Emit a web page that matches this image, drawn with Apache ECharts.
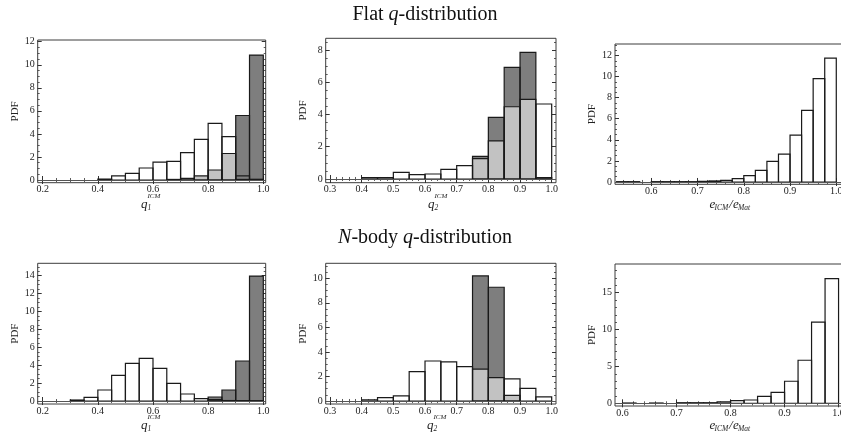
<!DOCTYPE html>
<html>
<head>
<meta charset="utf-8">
<script src="https://cdn.jsdelivr.net/npm/echarts@6/dist/echarts.min.js"></script>
<style>
  html, body { margin: 0; padding: 0; background: #fff; }
  #chart { width: 841px; height: 439px; }
</style>
</head>
<body>
<div id="chart"></div>
<script>
// bin edges
var edgesFlatQ = [0.40, 0.45, 0.50, 0.55, 0.60, 0.65, 0.70, 0.75, 0.80, 0.85, 0.90, 0.95, 1.00];
var edgesNbodyQ1 = [0.30, 0.35, 0.40, 0.45, 0.50, 0.55, 0.60, 0.65, 0.70, 0.75, 0.80, 0.85, 0.90, 0.95, 1.00];
var edgesFlatE = [0.500, 0.525, 0.550, 0.575, 0.600, 0.625, 0.650, 0.675, 0.700, 0.725, 0.750,
                  0.775, 0.800, 0.825, 0.850, 0.875, 0.900, 0.925, 0.950, 0.975, 1.000];
var edgesNbodyE = [0.600, 0.625, 0.650, 0.675, 0.700, 0.725, 0.750, 0.775, 0.800,
                   0.825, 0.850, 0.875, 0.900, 0.925, 0.950, 0.975, 1.000];

// flat q-distribution
var flatQ1White = [0.08, 0.35, 0.58, 1.04, 1.56, 1.62, 2.37, 3.53, 4.91, 3.76, 0.35, 0.05];
var flatQ1Light = [0, 0, 0, 0, 0, 0.05, 0.15, 0.35, 0.87, 2.30, 0.05, 0.05];
var flatQ1Dark  = [0, 0, 0, 0, 0, 0, 0, 0, 0, 0, 5.60, 10.84];

var flatQ2White = [0.08, 0.08, 0.41, 0.27, 0.31, 0.60, 0.83, 0, 0, 0, 0, 4.65];
var flatQ2Light = [0, 0, 0, 0, 0, 0, 0, 1.26, 2.36, 4.48, 4.94, 0.08];
var flatQ2Dark  = [0, 0, 0, 0, 0, 0, 0, 1.40, 3.82, 6.92, 7.85, 0];

var flatEWhite = [0, 0.03, 0.03, 0, 0.03, 0.03, 0.03, 0.03, 0.06, 0.10, 0.16,
                  0.32, 0.60, 1.10, 1.95, 2.65, 4.45, 6.80, 9.80, 11.75];

// N-body q-distribution
var nbodyQ1White = [0.11, 0.40, 1.23, 2.87, 4.20, 4.77, 3.65, 1.97, 0.78, 0.26, 0.15, 0.05, 0.04, 0.03];
var nbodyQ1Dark  = [0, 0, 0, 0, 0, 0, 0, 0, 0, 0, 0.45, 1.23, 4.47, 13.96];

var nbodyQ2White = [0.10, 0.27, 0.41, 2.40, 3.26, 3.18, 2.80, 0, 0, 1.80, 1.03, 0.33];
var nbodyQ2Light = [0, 0, 0, 0, 0, 0, 0, 2.60, 1.90, 0.46, 0, 0];
var nbodyQ2Dark  = [0, 0, 0, 0, 0, 0, 0, 10.19, 9.27, 0, 0, 0];

var nbodyEWhite = [0.04, 0, 0.04, 0, 0.08, 0.08, 0.08, 0.18, 0.36, 0.45, 0.95, 1.48, 2.99, 5.84, 11.00, 16.90];

// tick labels
var xTicksQ1 = [0.2, 0.4, 0.6, 0.8, 1.0];
var xTicksQ2 = [0.3, 0.4, 0.5, 0.6, 0.7, 0.8, 0.9, 1.0];
var xTicksE = [0.6, 0.7, 0.8, 0.9, 1.0];
var yTicksFlatQ1 = [0, 2, 4, 6, 8, 10, 12];
var yTicksFlatQ2 = [0, 2, 4, 6, 8];
var yTicksFlatE = [0, 2, 4, 6, 8, 10, 12];
var yTicksNbodyQ1 = [0, 2, 4, 6, 8, 10, 12, 14];
var yTicksNbodyQ2 = [0, 2, 4, 6, 8, 10];
var yTicksNbodyE = [0, 5, 10, 15];

var WHITE = '#ffffff', LIGHT = '#c2c2c2', DARK = '#7e7e7e', EDGE = '#1a1a1a', TICK = '#333';
var SERIF = '"Liberation Serif", "DejaVu Serif", serif';

function bins(edges, values) {
  var out = [];
  for (var i = 0; i < values.length; i++) {
    if (values[i] > 0) out.push([edges[i], edges[i + 1], values[i]]);
  }
  return out;
}

function steps(lo, hi, step) {
  var out = [];
  for (var k = Math.ceil(lo / step - 1e-9); k * step <= hi + 1e-9; k++) out.push(+(k * step).toFixed(6));
  return out;
}

var panels = [
  {grid: {left: 37.7, top: 40, width: 228, height: 142.7}, x: [0.1819, 1.0087], y: [-0.234, 12.15],
   xt: xTicksQ1, yt: yTicksFlatQ1, xm: 0.05, ym: 0.5,
   hists: [[WHITE, bins(edgesFlatQ, flatQ1White)], [DARK, bins(edgesFlatQ, flatQ1Dark)], [LIGHT, bins(edgesFlatQ, flatQ1Light)]]},
  {grid: {left: 325.7, top: 38.3, width: 230.3, height: 144.4}, x: [0.2864, 1.0136], y: [-0.23, 8.726],
   xt: xTicksQ2, yt: yTicksFlatQ2, xm: 0.02, ym: 0.5,
   hists: [[WHITE, bins(edgesFlatQ, flatQ2White)], [DARK, bins(edgesFlatQ, flatQ2Dark)], [LIGHT, bins(edgesFlatQ, flatQ2Light)]]},
  // right-hand panels run past the page edge, as in the original
  {grid: {left: 615, top: 44, width: 230.3, height: 140.3}, x: [0.5215, 1.0195], y: [-0.22, 13.09],
   xt: xTicksE, yt: yTicksFlatE, xm: 0.02, ym: 0.5,
   hists: [[WHITE, bins(edgesFlatE, flatEWhite)]]},
  {grid: {left: 37.7, top: 263.3, width: 228, height: 140.7}, x: [0.1819, 1.0087], y: [-0.335, 15.39],
   xt: xTicksQ1, yt: yTicksNbodyQ1, xm: 0.05, ym: 0.5,
   hists: [[WHITE, bins(edgesNbodyQ1, nbodyQ1White)], [DARK, bins(edgesNbodyQ1, nbodyQ1Dark)]]},
  {grid: {left: 325.7, top: 263.3, width: 230.3, height: 140.7}, x: [0.2864, 1.0136], y: [-0.245, 11.22],
   xt: xTicksQ2, yt: yTicksNbodyQ2, xm: 0.02, ym: 0.5,
   hists: [[WHITE, bins(edgesFlatQ, nbodyQ2White)], [DARK, bins(edgesFlatQ, nbodyQ2Dark)], [LIGHT, bins(edgesFlatQ, nbodyQ2Light)]]},
  {grid: {left: 615, top: 264, width: 232.2, height: 142}, x: [0.586, 1.016], y: [-0.366, 18.89],
   xt: xTicksE, yt: yTicksNbodyE, xm: 0.02, ym: 1,
   hists: [[WHITE, bins(edgesNbodyE, nbodyEWhite)]]}
];

function barShape(api) {
  var lo = api.coord([api.value(0), 0]);
  var hi = api.coord([api.value(1), api.value(2)]);
  return {x: lo[0], y: hi[1], width: hi[0] - lo[0], height: lo[1] - hi[1]};
}

var grids = [], xAxes = [], yAxes = [], series = [];

panels.forEach(function (p, gi) {
  grids.push(Object.assign({show: true, borderColor: '#3c3c3c', borderWidth: 1, backgroundColor: 'transparent',
                            containLabel: false, outerBoundsMode: 'none'}, p.grid));

  var xBase = {type: 'value', gridIndex: gi, min: p.x[0], max: p.x[1], splitLine: {show: false},
               axisLine: {show: false}, axisLabel: {show: false}};
  var yBase = {type: 'value', gridIndex: gi, min: p.y[0], max: p.y[1], splitLine: {show: false},
               axisLine: {show: false}, axisLabel: {show: false}};
  var xMajor = {show: true, inside: true, length: 4, lineStyle: {color: TICK, width: 1}, customValues: p.xt};
  var xMinor = {show: true, inside: true, length: 2, lineStyle: {color: TICK, width: 0.8}, customValues: steps(p.x[0], p.x[1], p.xm)};
  var yMajor = {show: true, inside: true, length: 4, lineStyle: {color: TICK, width: 1}, customValues: p.yt};
  var yMinor = {show: true, inside: true, length: 2, lineStyle: {color: TICK, width: 0.8}, customValues: steps(p.y[0], p.y[1], p.ym)};

  xAxes.push(
    Object.assign({}, xBase, {position: 'bottom', axisTick: xMajor,
      axisLabel: {show: true, customValues: p.xt, margin: 2, fontFamily: SERIF, fontSize: 10, color: '#222',
                  formatter: function (v) { return v.toFixed(1); }}}),
    Object.assign({}, xBase, {position: 'top', axisTick: xMajor}),
    Object.assign({}, xBase, {position: 'bottom', axisTick: xMinor}),
    Object.assign({}, xBase, {position: 'top', axisTick: xMinor})
  );
  yAxes.push(
    Object.assign({}, yBase, {position: 'left', axisTick: yMajor,
      name: 'PDF', nameLocation: 'middle', nameGap: 17, nameRotate: 90,
      nameTextStyle: {fontFamily: SERIF, fontSize: 11, color: '#222'},
      axisLabel: {show: true, customValues: p.yt, margin: 3, fontFamily: SERIF, fontSize: 10, color: '#222'}}),
    Object.assign({}, yBase, {position: 'right', axisTick: yMajor}),
    Object.assign({}, yBase, {position: 'left', axisTick: yMinor}),
    Object.assign({}, yBase, {position: 'right', axisTick: yMinor})
  );

  var allBins = [];
  p.hists.forEach(function (h) {
    var color = h[0];
    allBins = allBins.concat(h[1]);
    series.push({
      type: 'custom', xAxisIndex: gi * 4, yAxisIndex: gi * 4, z: 2, silent: true,
      data: h[1], encode: {x: [0, 1], y: 2},
      renderItem: function (params, api) {
        return {type: 'rect', shape: barShape(api), style: {fill: color, stroke: null}};
      }
    });
  });
  series.push({
    type: 'custom', xAxisIndex: gi * 4, yAxisIndex: gi * 4, z: 3, silent: true,
    data: allBins, encode: {x: [0, 1], y: 2},
    renderItem: function (params, api) {
      return {type: 'rect', shape: barShape(api), style: {fill: 'none', stroke: EDGE, lineWidth: 1.2}};
    },
    markLine: {silent: true, symbol: ['none', 'none'], label: {show: false},
               lineStyle: {color: '#555', width: 1, type: 'solid'}, data: [{yAxis: 0}]}
  });
});

function qName(x, y, idx) {
  return {type: 'group', children: [
    {type: 'text', x: x, y: y, style: {text: 'q', font: 'italic 13px ' + SERIF, fill: '#222', verticalAlign: 'middle'}},
    {type: 'text', x: x + 6.5, y: y - 9, style: {text: 'ICM', font: 'italic 7px ' + SERIF, fill: '#222', verticalAlign: 'middle'}},
    {type: 'text', x: x + 6.5, y: y + 3, style: {text: idx, font: 'italic 7.5px ' + SERIF, fill: '#222', verticalAlign: 'middle'}}
  ]};
}

function eName(x, y) {
  return {type: 'group', children: [
    {type: 'text', x: x, y: y, style: {text: 'e', font: 'italic 13px ' + SERIF, fill: '#222', verticalAlign: 'middle'}},
    {type: 'text', x: x + 5, y: y + 3, style: {text: 'ICM', font: 'italic 7.5px ' + SERIF, fill: '#222', verticalAlign: 'middle'}},
    {type: 'text', x: x + 19.5, y: y, style: {text: '/', font: 'italic 13px ' + SERIF, fill: '#222', verticalAlign: 'middle'}},
    {type: 'text', x: x + 23.5, y: y, style: {text: 'e', font: 'italic 13px ' + SERIF, fill: '#222', verticalAlign: 'middle'}},
    {type: 'text', x: x + 28.5, y: y + 3, style: {text: 'Mat', font: 'italic 7.5px ' + SERIF, fill: '#222', verticalAlign: 'middle'}}
  ]};
}

var titleRich = {
  r: {fontFamily: SERIF, fontSize: 20, fill: '#111'},
  i: {fontFamily: SERIF, fontSize: 20, fontStyle: 'italic', fill: '#111'}
};

var chart = echarts.init(document.getElementById('chart'));
chart.setOption({
  animation: false,
  backgroundColor: '#fff',
  grid: grids,
  xAxis: xAxes,
  yAxis: yAxes,
  series: series,
  graphic: [
    {type: 'text', x: 425, y: 14.5, style: {text: '{r|Flat }{i|q}{r|-distribution}', rich: titleRich, align: 'center', verticalAlign: 'middle'}},
    {type: 'text', x: 425, y: 238, style: {text: '{i|N}{r|-body }{i|q}{r|-distribution}', rich: titleRich, align: 'center', verticalAlign: 'middle'}},
    qName(141, 205, '1'),
    qName(428, 205, '2'),
    eName(709.5, 205),
    qName(141, 426, '1'),
    qName(427, 426, '2'),
    eName(709.5, 426)
  ]
});
</script>
</body>
</html>
